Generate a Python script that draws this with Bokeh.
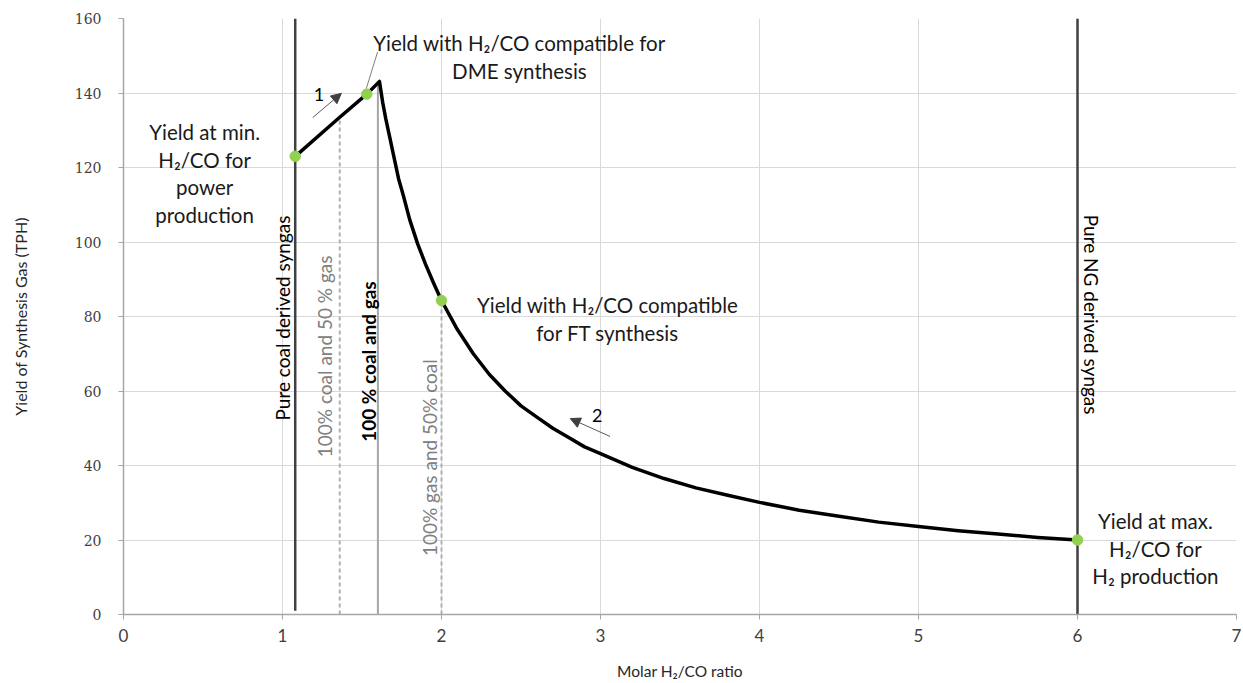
import numpy as np
from bokeh.plotting import figure
from bokeh.models import Range1d, FixedTicker, Arrow, NormalHead
from bokeh.core.properties import value
from bokeh.embed import file_html
from bokeh.resources import INLINE

# ---- data ----
curve_x = [1.08, 1.36, 1.53, 1.61, 1.63, 1.65, 1.675, 1.70, 1.73, 1.76, 1.80, 1.85, 1.90, 1.95,
           2.0, 2.1, 2.2, 2.3, 2.4, 2.5, 2.6, 2.7, 2.8, 2.9, 3.0, 3.2, 3.4, 3.6, 3.8,
           4.0, 4.25, 4.5, 4.75, 5.0, 5.25, 5.5, 5.75, 6.0]
curve_y = [123.0, 133.5, 139.7, 143.1, 137.5, 133.0, 128.0, 123.0, 117.0, 112.5, 106.0, 99.5, 94.0, 89.0,
           84.3, 76.5, 70.0, 64.5, 60.0, 56.0, 53.0, 50.0, 47.5, 45.0, 43.2, 39.5, 36.5, 34.0, 32.0,
           30.1, 28.0, 26.4, 24.8, 23.6, 22.5, 21.6, 20.7, 20.0]

point_x = [1.08, 1.53, 2.0, 6.0]
point_y = [123.0, 139.7, 84.3, 20.0]

dark_vline_x = [1.08, 6.0]
dark_vline_bottom = [1.0, 0.0]
dark_vline_top = [160.0, 160.0]

grey_vline_x = [1.6]
grey_vline_top = [143.1]

dashed_vline_x = [1.36, 2.0]
dashed_vline_top = [133.5, 84.3]

x_ticks = [0, 1, 2, 3, 4, 5, 6, 7]
y_ticks = [0, 20, 40, 60, 80, 100, 120, 140, 160]

# annotations (text, x, y)
box_texts = ["Yield at min.\nH\u2082/CO for\npower\nproduction",
             "Yield with H\u2082/CO compatible for\nDME synthesis",
             "Yield with H\u2082/CO compatible\nfor FT synthesis",
             "Yield at max.\nH\u2082/CO for\nH\u2082 production"]
box_x = [0.51, 2.49, 3.045, 6.49]
box_y = [118.4, 149.7, 79.3, 17.7]

vert_texts = ["Pure coal derived syngas", "100% coal and 50 % gas", "100% gas and 50% coal"]
vert_x = [1.0, 1.265, 1.925]
vert_y = [79.6, 69.3, 42.1]
vert_colors = ["#000000", "#808080", "#808080"]

bold_text = ["100 % coal and gas"]
bold_x = [1.54]
bold_y = [67.9]

ng_text = ["Pure NG derived syngas"]
ng_x = [6.085]
ng_y = [80.5]

num_text = ["1", "2"]
num_x = [1.23, 2.98]
num_y = [139.6, 53.4]

arrows = [(1.19, 133.4, 1.37, 139.9), (3.06, 47.8, 2.81, 52.6)]
leader = ([1.527, 1.598], [141.2, 151.0])

FONT = "Lato"

p = figure(frame_width=1113, frame_height=596,
           min_border_left=123, min_border_right=7, min_border_top=18, min_border_bottom=69,
           x_range=Range1d(0, 7), y_range=Range1d(0, 160),
           output_backend="svg", toolbar_location=None, background_fill_color="white")
p.outline_line_color = None

# grid
p.xaxis.ticker = FixedTicker(ticks=x_ticks)
p.yaxis.ticker = FixedTicker(ticks=y_ticks)
p.xgrid.ticker = FixedTicker(ticks=x_ticks)
p.ygrid.ticker = FixedTicker(ticks=y_ticks)
p.grid.grid_line_color = "#d9d9d9"
p.grid.grid_line_width = 1

# axes
for ax in (p.xaxis, p.yaxis):
    ax.axis_line_color = "#a6a6a6"
    ax.axis_line_width = 1.5
    ax.major_tick_line_color = "#a6a6a6"
    ax.major_tick_in = 0
    ax.major_tick_out = 5
    ax.minor_tick_line_color = None
    ax.major_label_text_color = "#404040"
    ax.axis_label_text_font_style = "normal"
    ax.axis_label_text_color = "#262626"
    ax.axis_label_text_font = FONT

p.yaxis.major_label_text_font = "DejaVu Serif"
p.yaxis.major_label_text_font_size = "14px"
p.yaxis.major_label_standoff = 17
p.yaxis.axis_label = "Yield of Synthesis Gas (TPH)"
p.yaxis.axis_label_text_font_size = "16px"
p.yaxis.axis_label_standoff = 42

p.xaxis.major_label_text_font = FONT
p.xaxis.major_label_text_font_size = "17px"
p.xaxis.major_label_standoff = 9
p.xaxis.axis_label = "Molar H\u2082/CO ratio"
p.xaxis.axis_label_text_font_size = "15.5px"
p.xaxis.axis_label_standoff = 17

# vertical lines
p.segment(x0=dark_vline_x, y0=dark_vline_bottom, x1=dark_vline_x, y1=dark_vline_top,
          line_color="#404040", line_width=2.5)
p.segment(x0=grey_vline_x, y0=[0] * len(grey_vline_x), x1=grey_vline_x, y1=grey_vline_top,
          line_color="#a6a6a6", line_width=2)
p.segment(x0=dashed_vline_x, y0=[0] * len(dashed_vline_x), x1=dashed_vline_x, y1=dashed_vline_top,
          line_color="#b0b0b0", line_width=2, line_dash="4 3")

# main curve
p.line(curve_x, curve_y, line_color="black", line_width=3.5, line_join="round")

# leader line
p.line(leader[0], leader[1], line_color="#7f7f7f", line_width=1)

# points
p.scatter(point_x, point_y, size=10.5, fill_color="#92d050", line_color="#92d050")

# arrows
for (xs, ys, xe, ye) in arrows:
    p.add_layout(Arrow(end=NormalHead(size=10, fill_color="#404040", line_color="#404040"),
                       x_start=xs, y_start=ys, x_end=xe, y_end=ye,
                       line_color="#595959", line_width=1))

# texts
p.text(box_x, box_y, text=box_texts, text_font=value(FONT), text_font_size="20.5px",
       text_align="center", text_baseline="middle", text_color="#1a1a1a", text_line_height=1.15)
p.text(vert_x, vert_y, text=vert_texts, text_font=value(FONT), text_font_size="19px",
       text_align="center", text_baseline="middle", text_color=vert_colors, angle=np.pi / 2)
p.text(bold_x, bold_y, text=bold_text, text_font=value(FONT), text_font_size="19px",
       text_font_style="bold", text_align="center", text_baseline="middle",
       text_color="#000000", angle=np.pi / 2)
p.text(ng_x, ng_y, text=ng_text, text_font=value(FONT), text_font_size="19px",
       text_align="center", text_baseline="middle", text_color="#000000", angle=-np.pi / 2)
p.text(num_x, num_y, text=num_text, text_font=value(FONT), text_font_size="18px",
       text_align="center", text_baseline="middle", text_color="#000000")

open("out.html", "w").write(file_html(p, INLINE))
